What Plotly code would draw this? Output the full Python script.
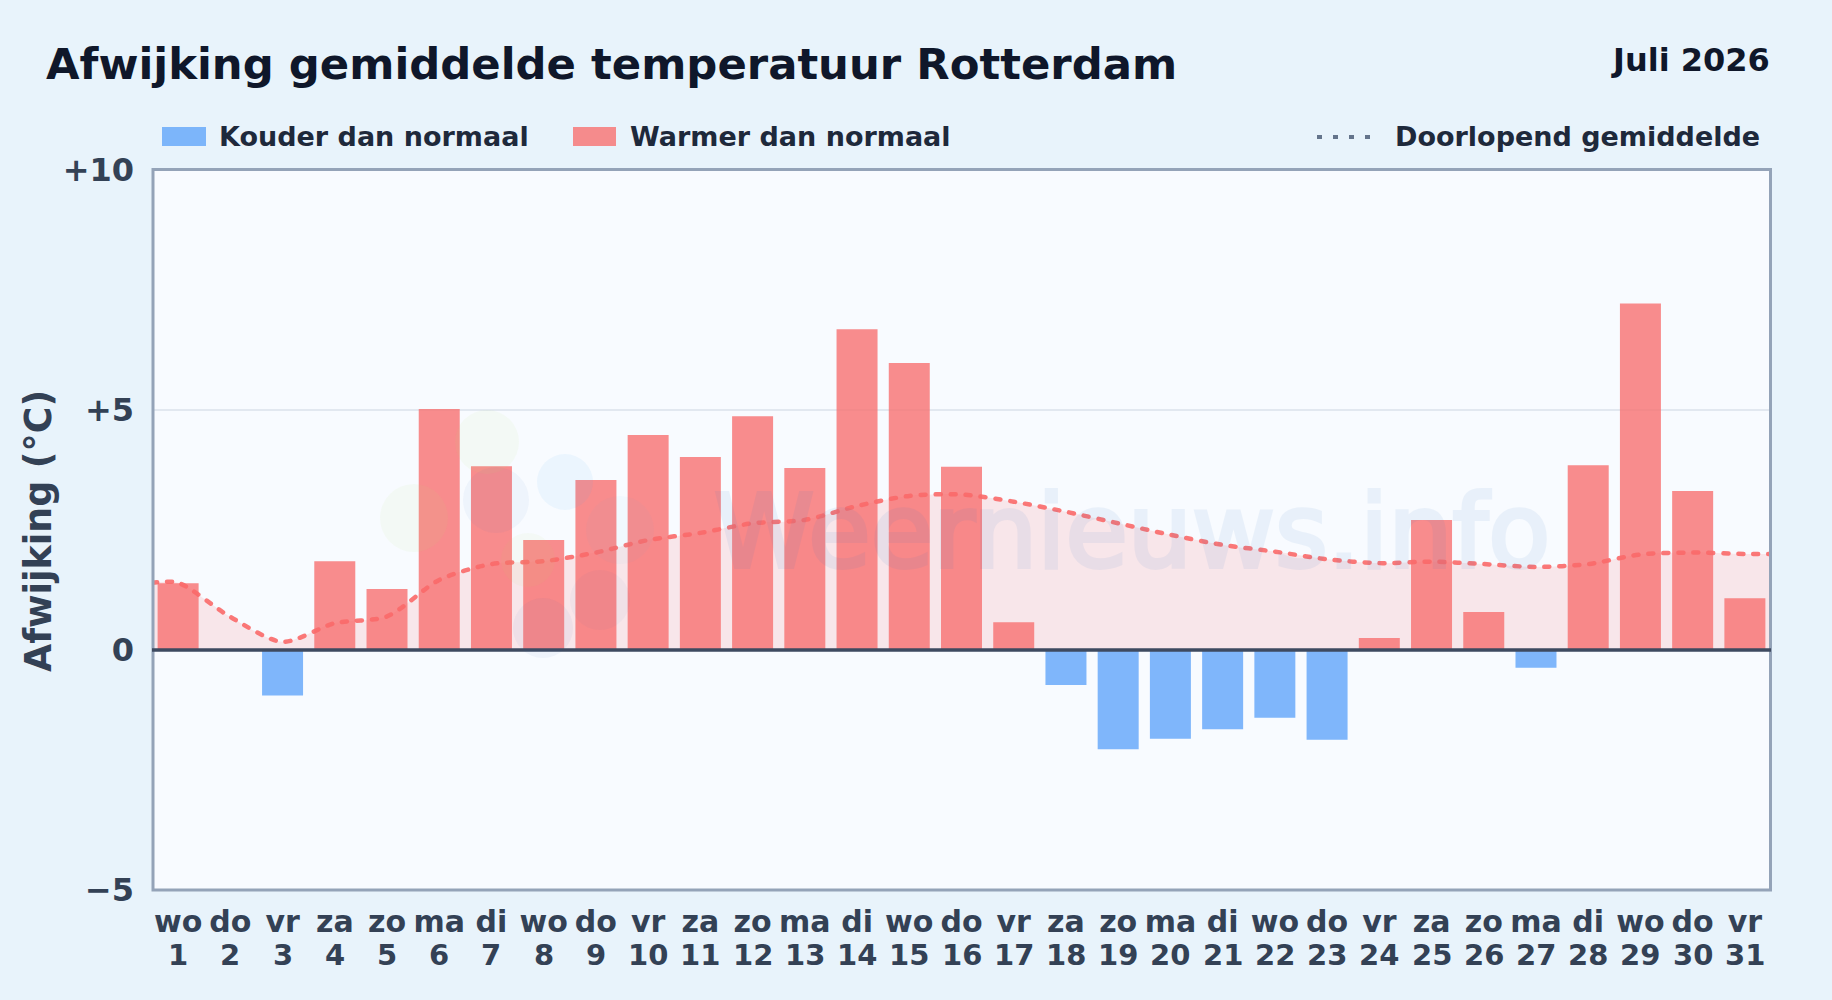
import plotly.graph_objects as go

W, H = 1832, 1000
L, R, T, B = 152, 1771, 170, 890

days = list(range(1, 32))
weekdays = ["wo","do","vr","za","zo","ma","di","wo","do","vr","za","zo","ma","di","wo","do","vr","za","zo","ma","di","wo","do","vr","za","zo","ma","di","wo","do","vr"]
anomaly = [1.39,None,-0.95,1.85,1.27,5.02,3.83,2.29,3.54,4.48,4.02,4.87,3.79,6.68,5.98,3.82,0.58,-0.73,-2.07,-1.85,-1.65,-1.41,-1.87,0.25,2.71,0.79,-0.37,3.85,7.22,3.31,1.08]
running_x = [0.5] + days + [31.5]
running_mean = [1.40,1.40,0.69,0.17,0.56,0.70,1.46,1.79,1.85,2.03,2.29,2.44,2.64,2.71,3.00,3.21,3.24,3.09,2.88,2.64,2.40,2.19,2.05,1.89,1.81,1.84,1.79,1.73,1.79,1.99,2.03,2.00,2.00]
ytick_vals = [-5, 0, 5, 10]
ytick_text = ["−5", "0", "+5", "+10"]

FONT = "DejaVu Sans"
BLUE = "rgba(96,165,250,0.8)"
RED = "rgba(248,113,113,0.8)"

def px(x): return (x - L) / (R - L)
def py(y): return (B - y) / (B - T)

bar_colors = [RED if (v or 0) >= 0 else BLUE for v in anomaly]

fig = go.Figure()
fig.add_bar(x=days, y=anomaly, marker=dict(color=bar_colors, line_width=0), width=0.785, showlegend=False)
fig.add_scatter(x=running_x, y=running_mean, mode="lines", showlegend=False,
                line=dict(color="rgba(250,105,105,0.9)", width=4.5, dash="5px,10px", shape="spline", smoothing=0.8),
                fill="tozeroy", fillcolor="rgba(248,113,113,0.15)", name="Doorlopend gemiddelde")

def text(x, y, s, size, color, anchor="left", weight="bold", **kw):
    fig.add_annotation(xref="paper", yref="paper", x=px(x), y=py(y), text=s, showarrow=False,
                       xanchor=anchor, yanchor="middle", xshift=0, yshift=0,
                       font=dict(family=FONT, size=size, color=color, weight=weight), **kw)

text(44, 64, "Afwijking gemiddelde temperatuur Rotterdam", 43.35, "#0f172a")
text(1772, 60, "Juli 2026", 32, "#0f172a", anchor="right")
text(217, 137, "Kouder dan normaal", 27, "#1e293b")
text(628, 137, "Warmer dan normaal", 27, "#1e293b")
text(1393, 137, "Doorlopend gemiddelde", 27, "#1e293b")
text(38, 531, "Afwijking (°C)", 36.4, "#334155", anchor="center", textangle=-90)

# weekday labels come from the axis; the day numbers sit on a second row
for d in days:
    fig.add_annotation(xref="x", yref="paper", x=d, y=py(955), text=str(d), showarrow=False,
                       xanchor="center", yanchor="middle",
                       font=dict(family=FONT, size=29, color="#334155", weight="bold"))

# watermark
text(712, 532, "Weernieuws.info", 101.4, "rgb(45,115,195)", weight="normal", opacity=0.07)

shapes = [
    dict(type="rect", xref="paper", yref="paper", x0=px(162), x1=px(206), y0=py(127), y1=py(146), fillcolor=BLUE, line_width=0),
    dict(type="rect", xref="paper", yref="paper", x0=px(573), x1=px(616), y0=py(127), y1=py(146), fillcolor=RED, line_width=0),
    dict(type="line", xref="paper", yref="paper", x0=px(1317), x1=px(1376), y0=py(137), y1=py(137),
         line=dict(color="#64748b", width=4, dash="5px,11px")),
    dict(type="rect", xref="paper", yref="paper", layer="above", x0=px(153), x1=px(1770.5), y0=py(890), y1=py(169.5),
         line=dict(color="#94a3b8", width=3), fillcolor="rgba(0,0,0,0)"),
    dict(type="line", xref="paper", yref="y", x0=0, x1=1, y0=0, y1=0, layer="above", line=dict(color="#3e4a60", width=3.5)),
]
blobs = [
    (414, 518, 34, "rgba(190,220,110,0.07)"),
    (487, 442, 32, "rgba(190,220,110,0.07)"),
    (565, 482, 28, "rgba(70,170,240,0.07)"),
    (496, 500, 33, "rgba(60,120,200,0.05)"),
    (620, 530, 34, "rgba(70,170,240,0.04)"),
    (600, 600, 30, "rgba(60,100,180,0.04)"),
    (543, 628, 30, "rgba(60,100,180,0.05)"),
    (528, 560, 27, "rgba(190,220,110,0.06)"),
]
for cx, cy, r, c in blobs:
    shapes.append(dict(type="circle", xref="paper", yref="paper", layer="above",
                       x0=px(cx-r), x1=px(cx+r), y0=py(cy-r), y1=py(cy+r), fillcolor=c, line_width=0))

fig.update_layout(
    width=W, height=H, autosize=False,
    margin=dict(l=L, r=W-R, t=T, b=H-B, pad=0),
    paper_bgcolor="#e8f3fb", plot_bgcolor="#f8fbff",
    font=dict(family=FONT), showlegend=False, bargap=0.2, shapes=shapes,
    xaxis=dict(range=[0.5, 31.5], tickvals=days, ticktext=weekdays, ticks="", showgrid=False, zeroline=False,
               showline=False, ticklabelstandoff=11,
               tickfont=dict(family=FONT, size=30, color="#334155", weight="bold")),
    yaxis=dict(range=[-5, 10], tickvals=ytick_vals, ticktext=ytick_text, ticks="", showgrid=True, gridcolor="#e2e8f0", gridwidth=1.5,
               zeroline=False, showline=False, ticklabelstandoff=17,
               tickfont=dict(family=FONT, size=32, color="#334155", weight="bold")),
)

post = """document.body.style.margin='0';document.documentElement.style.background='#e8f3fb';
document.querySelectorAll('.scatterlayer .js-line').forEach(function(p){p.style.strokeLinecap='round';});
document.querySelectorAll('.annotation-text').forEach(function(t){
  if(t.textContent.indexOf('Weernieuws')===0){t.style.stroke='rgb(45,115,195)';t.style.strokeWidth='4px';}
});"""
fig.write_html("out.html", config={"displayModeBar": False}, post_script=post)
